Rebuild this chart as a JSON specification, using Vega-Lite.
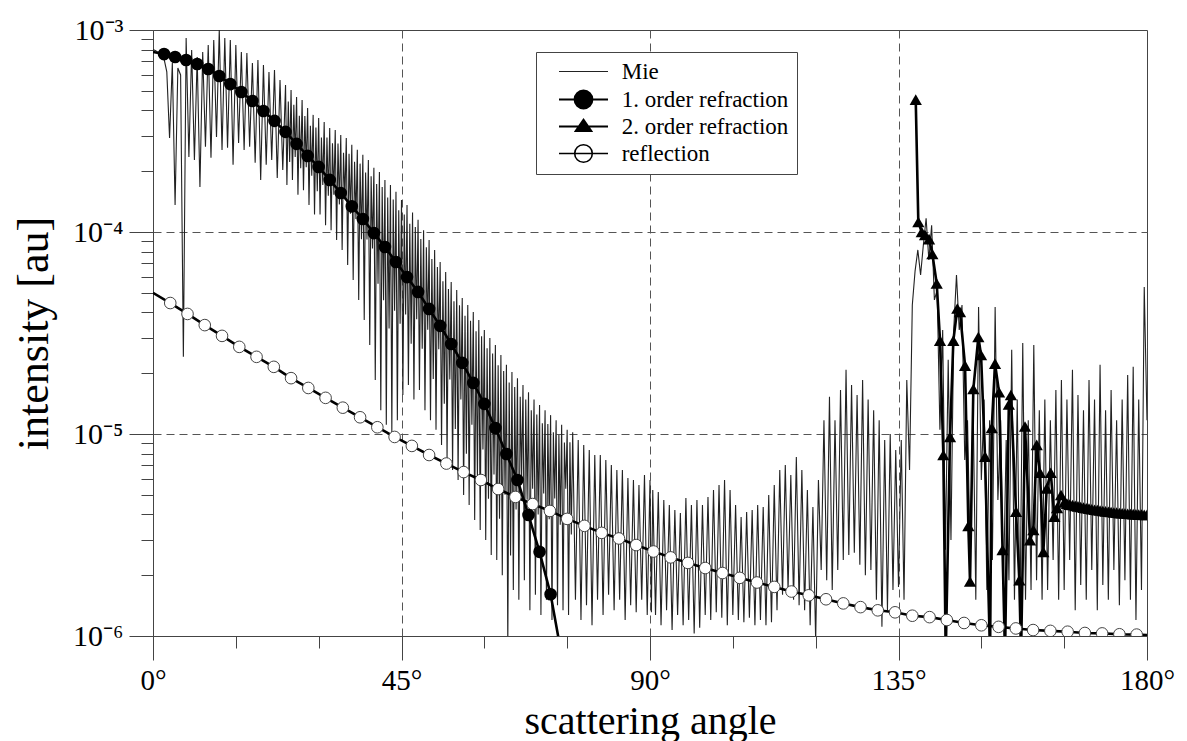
{
  "$schema": "https://vega.github.io/schema/vega-lite/v6.json",
  "width": 994,
  "height": 606,
  "autosize": {"type": "none"},
  "padding": {"left": 153, "top": 30, "right": 40, "bottom": 105},
  "background": "white",
  "config": {
    "font": "Liberation Serif",
    "view": {"stroke": "#444", "strokeWidth": 1},
    "axis": {"labelFont": "Liberation Serif", "titleFont": "Liberation Serif", "labelColor": "black", "titleColor": "black", "titleFontWeight": "normal", "tickColor": "#444", "domainColor": "#444", "gridColor": "#555", "tickWidth": 1},
    "legend": {"labelFont": "Liberation Serif", "titleFont": "Liberation Serif"}
  },
  "datasets": {
    "mie": [
      {"a":0,"v":8.0e-4},{"a":0.5,"v":7.9e-4},{"a":1,"v":7.7e-4},{"a":1.5,"v":7.5e-4},{"a":2,"v":7.2e-4},{"a":2.5,"v":6.2e-4},
      {"a":3,"v":2.92e-4},{"a":3.5,"v":6.86e-4},{"a":4,"v":1.36e-4},{"a":4.5,"v":6.49e-4},{"a":5,"v":5.99e-4},{"a":5.5,"v":2.41e-5},
      {"a":6,"v":9.13e-4},{"a":6.5,"v":2.35e-4},{"a":7,"v":7.96e-4},{"a":7.5,"v":2.27e-4},{"a":8,"v":7.35e-4},{"a":8.5,"v":1.67e-4},
      {"a":9,"v":7.78e-4},{"a":9.5,"v":2.64e-4},{"a":10,"v":8.43e-4},{"a":10.5,"v":2.33e-4},{"a":11,"v":8.92e-4},{"a":11.5,"v":2.95e-4},
      {"a":12,"v":1.0e-3},{"a":12.5,"v":2.55e-4},{"a":13,"v":9.13e-4},{"a":13.5,"v":2.61e-4},{"a":14,"v":8.92e-4},{"a":14.5,"v":2.15e-4},
      {"a":15,"v":8.43e-4},{"a":15.5,"v":2.76e-4},{"a":16,"v":7.78e-4},{"a":16.5,"v":2.55e-4},{"a":17,"v":7.69e-4},{"a":17.5,"v":2.64e-4},
      {"a":18,"v":6.86e-4},{"a":18.5,"v":2.20e-4},{"a":19,"v":7.10e-4},{"a":19.5,"v":1.81e-4},{"a":20,"v":6.71e-4},{"a":20.5,"v":2.15e-4},
      {"a":21,"v":6.20e-4},{"a":21.5,"v":2.27e-4},{"a":22,"v":6.34e-4},{"a":22.5,"v":1.85e-4},{"a":23,"v":5.66e-4},{"a":23.5,"v":2.03e-4},
      {"a":24,"v":5.34e-4},{"a":24.25,"v":1.71e-4},{"a":24.5,"v":4.42e-4},{"a":24.75,"v":2.22e-4},
      {"a":25,"v":5.05e-4},{"a":25.25,"v":1.81e-4},{"a":25.5,"v":4.27e-4},{"a":25.75,"v":2.35e-4},
      {"a":26,"v":4.66e-4},{"a":26.25,"v":1.53e-4},{"a":26.5,"v":3.76e-4},{"a":26.75,"v":2.07e-4},
      {"a":27,"v":4.50e-4},{"a":27.25,"v":1.61e-4},{"a":27.5,"v":3.75e-4},{"a":27.75,"v":2.09e-4},
      {"a":28,"v":4.11e-4},{"a":28.25,"v":1.36e-4},{"a":28.5,"v":3.36e-4},{"a":28.75,"v":1.90e-4},
      {"a":29,"v":3.80e-4},{"a":29.25,"v":1.22e-4},{"a":29.5,"v":3.29e-4},{"a":29.75,"v":1.59e-4},
      {"a":30,"v":3.67e-4},{"a":30.25,"v":1.22e-4},{"a":30.5,"v":2.94e-4},{"a":30.75,"v":1.71e-4},
      {"a":31,"v":3.50e-4},{"a":31.25,"v":1.08e-4},{"a":31.5,"v":2.94e-4},{"a":31.75,"v":1.51e-4},
      {"a":32,"v":3.27e-4},{"a":32.25,"v":1.02e-4},{"a":32.5,"v":2.75e-4},{"a":32.75,"v":1.53e-4},
      {"a":33,"v":3.20e-4},{"a":33.25,"v":9.13e-5},{"a":33.5,"v":2.74e-4},{"a":33.75,"v":1.37e-4},
      {"a":34,"v":3.02e-4},{"a":34.25,"v":8.15e-5},{"a":34.5,"v":2.47e-4},{"a":34.75,"v":1.47e-4},
      {"a":35,"v":2.92e-4},{"a":35.25,"v":6.86e-5},{"a":35.5,"v":2.44e-4},{"a":35.75,"v":1.23e-4},
      {"a":36,"v":2.70e-4},{"a":36.25,"v":5.79e-5},{"a":36.5,"v":2.23e-4},{"a":36.75,"v":1.16e-4},
      {"a":37,"v":2.55e-4},{"a":37.25,"v":4.61e-5},{"a":37.5,"v":2.18e-4},{"a":37.75,"v":9.22e-5},
      {"a":38,"v":2.41e-4},{"a":38.25,"v":3.67e-5},{"a":38.5,"v":1.97e-4},{"a":38.75,"v":9.18e-5},
      {"a":39,"v":2.27e-4},{"a":39.25,"v":2.76e-5},{"a":39.5,"v":1.89e-4},{"a":39.75,"v":8.28e-5},
      {"a":40,"v":2.08e-4},{"a":40.25,"v":1.85e-5},{"a":40.5,"v":1.73e-4},{"a":40.75,"v":5.55e-5},
      {"a":41,"v":1.98e-4},{"a":41.25,"v":1.31e-5},{"a":41.5,"v":1.67e-4},{"a":41.75,"v":4.59e-5},
      {"a":42,"v":1.81e-4},{"a":42.25,"v":1.11e-5},{"a":42.5,"v":1.48e-4},{"a":42.75,"v":3.33e-5},
      {"a":43,"v":1.71e-4},{"a":43.25,"v":1.02e-5},{"a":43.5,"v":1.45e-4},{"a":43.75,"v":4.08e-5},
      {"a":44,"v":1.58e-4},{"a":44.25,"v":1.17e-5},{"a":44.5,"v":1.28e-4},{"a":44.75,"v":3.51e-5},
      {"a":45,"v":1.44e-4},{"a":45.25,"v":1.56e-5},{"a":45.5,"v":1.22e-4},{"a":45.75,"v":3.90e-5},
      {"a":46,"v":1.36e-4},{"a":46.25,"v":1.75e-5},{"a":46.5,"v":1.10e-4},{"a":46.75,"v":2.80e-5},
      {"a":47,"v":1.25e-4},{"a":47.25,"v":1.48e-5},{"a":47.5,"v":1.06e-4},{"a":47.75,"v":3.70e-5},
      {"a":48,"v":1.15e-4},{"a":48.25,"v":1.65e-5},{"a":48.5,"v":9.22e-5},{"a":48.75,"v":2.64e-5},
      {"a":49,"v":1.02e-4},{"a":49.25,"v":1.31e-5},{"a":49.5,"v":8.41e-5},{"a":49.75,"v":3.28e-5},
      {"a":50,"v":9.13e-5},{"a":50.25,"v":1.17e-5},{"a":50.5,"v":7.34e-5},{"a":50.75,"v":1.87e-5},
      {"a":51,"v":8.15e-5},{"a":51.25,"v":1.05e-5},{"a":51.5,"v":6.71e-5},{"a":51.75,"v":2.63e-5},
      {"a":52,"v":7.10e-5},{"a":52.25,"v":8.82e-6},{"a":52.5,"v":5.71e-5},{"a":52.75,"v":1.41e-5},
      {"a":53,"v":6.34e-5},{"a":53.25,"v":7.43e-6},{"a":53.5,"v":5.22e-5},{"a":53.75,"v":1.86e-5},
      {"a":54,"v":5.66e-5},{"a":54.25,"v":6.64e-6},{"a":54.5,"v":4.54e-5},{"a":54.75,"v":1.06e-5},
      {"a":55,"v":5.16e-5},{"a":55.25,"v":5.92e-6},{"a":55.5,"v":4.34e-5},{"a":55.75,"v":1.48e-5},
      {"a":56,"v":4.71e-5},{"a":56.25,"v":4.99e-6},{"a":56.5,"v":3.85e-5},{"a":56.75,"v":7.98e-6},
      {"a":57,"v":4.35e-5},{"a":57.25,"v":4.45e-6},{"a":57.5,"v":3.64e-5},{"a":57.75,"v":1.11e-5},
      {"a":58,"v":4.02e-5},{"a":58.25,"v":3.75e-6},{"a":58.5,"v":3.23e-5},{"a":58.75,"v":6.0e-6},
      {"a":59,"v":3.67e-5},{"a":59.25,"v":3.35e-6},{"a":59.5,"v":3.05e-5},{"a":59.75,"v":8.38e-6},
      {"a":60,"v":3.27e-5},{"a":60.25,"v":2.99e-6},{"a":60.5,"v":2.66e-5},{"a":60.75,"v":4.78e-6},
      {"a":61,"v":2.99e-5},{"a":61.25,"v":2.52e-6},{"a":61.5,"v":2.50e-5},{"a":61.75,"v":6.30e-6},
      {"a":62,"v":2.76e-5},{"a":62.25,"v":2.38e-6},{"a":62.5,"v":2.19e-5},{"a":62.75,"v":3.81e-6},
      {"a":63,"v":2.46e-5},{"a":63.25,"v":2.00e-6},{"a":63.5,"v":2.05e-5},{"a":63.75,"v":5.0e-6},
      {"a":64,"v":2.20e-5},{"a":64.25,"v":9.0e-7},{"a":64.5,"v":1.80e-5},{"a":64.75,"v":2.5e-6},
      {"a":65,"v":2.03e-5},{"a":65.25,"v":1.69e-6},{"a":65.5,"v":1.71e-5},{"a":65.75,"v":4.23e-6},
      {"a":66,"v":1.89e-5},{"a":66.25,"v":1.51e-6},{"a":66.5,"v":1.53e-5},{"a":66.75,"v":6.04e-6},
      {"a":67,"v":1.75e-5},{"a":67.25,"v":1.89e-6},{"a":67.5,"v":1.48e-5},{"a":67.75,"v":4.73e-6},
      {"a":68,"v":1.61e-5},{"a":68.25,"v":1.34e-6},{"a":68.5,"v":1.31e-5},{"a":68.75,"v":5.36e-6},
      {"a":69,"v":1.48e-5},{"a":69.25,"v":1.60e-6},{"a":69.5,"v":1.25e-5},{"a":69.75,"v":4.0e-6},
      {"a":70,"v":1.39e-5},{"a":70.25,"v":1.27e-6},{"a":70.5,"v":1.13e-5},{"a":70.75,"v":5.08e-6},
      {"a":71,"v":1.31e-5},{"a":71.25,"v":1.51e-6},{"a":71.5,"v":1.12e-5},{"a":71.75,"v":3.78e-6},
      {"a":72,"v":1.24e-5},{"a":72.25,"v":1.20e-6},{"a":72.5,"v":1.02e-5},{"a":72.75,"v":4.8e-6},
      {"a":73,"v":1.17e-5},{"a":73.25,"v":1.42e-6},{"a":73.5,"v":9.92e-6},{"a":73.75,"v":3.55e-6},
      {"a":74,"v":1.11e-5},{"a":74.25,"v":1.34e-6},{"a":74.5,"v":9.07e-6},{"a":74.75,"v":5.36e-6},
      {"a":75,"v":1.05e-5},{"a":75.25,"v":1.27e-6},{"a":75.5,"v":9.11e-6},{"a":75.75,"v":3.18e-6},
      {"a":76,"v":1.02e-5},{"a":76.5,"v":1.51e-6},{"a":77,"v":9.34e-6},{"a":77.5,"v":1.20e-6},
      {"a":78,"v":8.82e-6},{"a":78.5,"v":1.42e-6},{"a":79,"v":8.33e-6},{"a":79.5,"v":1.13e-6},{"a":80,"v":7.87e-6},{"a":80.5,"v":1.51e-6},
      {"a":81,"v":7.87e-6},{"a":81.5,"v":1.27e-6},{"a":82,"v":7.43e-6},{"a":82.5,"v":1.60e-6},{"a":83,"v":7.03e-6},{"a":83.5,"v":1.34e-6},
      {"a":84,"v":6.64e-6},{"a":84.5,"v":1.51e-6},{"a":85,"v":6.64e-6},{"a":85.5,"v":1.20e-6},{"a":86,"v":6.05e-6},{"a":86.5,"v":1.42e-6},
      {"a":87,"v":5.92e-6},{"a":87.5,"v":1.31e-6},{"a":88,"v":5.59e-6},{"a":88.5,"v":1.51e-6},{"a":89,"v":6.27e-6},{"a":89.5,"v":1.27e-6},
      {"a":90,"v":5.92e-6},{"a":90.25,"v":1.31e-6},{"a":90.5,"v":5.28e-6},{"a":91,"v":1.27e-6},{"a":91.5,"v":5.16e-6},{"a":92,"v":1.13e-6},
      {"a":92.5,"v":4.71e-6},{"a":93,"v":1.34e-6},{"a":93.5,"v":4.45e-6},{"a":94,"v":1.07e-6},{"a":94.5,"v":4.20e-6},{"a":95,"v":1.27e-6},
      {"a":95.5,"v":4.06e-6},{"a":96,"v":1.13e-6},{"a":96.5,"v":4.82e-6},{"a":97,"v":1.20e-6},{"a":97.5,"v":4.45e-6},{"a":98,"v":1.03e-6},
      {"a":98.5,"v":4.71e-6},{"a":99,"v":1.10e-6},{"a":99.5,"v":4.45e-6},{"a":100,"v":1.27e-6},{"a":100.5,"v":4.88e-6},{"a":101,"v":1.20e-6},
      {"a":101.5,"v":5.28e-6},{"a":102,"v":1.31e-6},{"a":102.5,"v":5.59e-6},{"a":103,"v":1.23e-6},{"a":103.5,"v":5.92e-6},{"a":104,"v":1.13e-6},
      {"a":104.5,"v":5.28e-6},{"a":105,"v":1.27e-6},{"a":105.5,"v":4.45e-6},{"a":106,"v":1.20e-6},{"a":106.5,"v":3.88e-6},{"a":107,"v":1.17e-6},
      {"a":107.5,"v":4.11e-6},{"a":108,"v":1.23e-6},{"a":108.5,"v":4.20e-6},{"a":109,"v":1.13e-6},{"a":109.5,"v":4.45e-6},{"a":110,"v":1.20e-6},
      {"a":110.5,"v":4.35e-6},{"a":111,"v":1.13e-6},{"a":111.5,"v":4.99e-6},{"a":112,"v":1.17e-6},{"a":112.5,"v":5.59e-6},{"a":113,"v":1.34e-6},
      {"a":113.5,"v":6.64e-6},{"a":114,"v":1.60e-6},{"a":114.5,"v":7.03e-6},{"a":115,"v":1.69e-6},{"a":115.5,"v":6.27e-6},{"a":116,"v":1.51e-6},
      {"a":116.5,"v":7.69e-6},{"a":117,"v":1.42e-6},{"a":117.5,"v":6.64e-6},{"a":118,"v":1.34e-6},{"a":118.5,"v":5.28e-6},{"a":119,"v":1.13e-6},
      {"a":119.5,"v":4.35e-6},{"a":120,"v":9.5e-7},{"a":120.5,"v":5.92e-6},{"a":121,"v":2.12e-6},{"a":121.5,"v":1.17e-5},{"a":122,"v":1.89e-6},
      {"a":122.5,"v":1.53e-5},{"a":123,"v":1.69e-6},{"a":123.5,"v":1.17e-5},{"a":124,"v":2.12e-6},{"a":124.5,"v":1.65e-5},{"a":125,"v":2.38e-6},
      {"a":125.5,"v":2.08e-5},{"a":126,"v":2.52e-6},{"a":126.5,"v":1.75e-5},{"a":127,"v":2.58e-6},{"a":127.5,"v":1.56e-5},{"a":128,"v":2.25e-6},
      {"a":128.5,"v":1.85e-5},{"a":129,"v":2.00e-6},{"a":129.5,"v":1.48e-5},{"a":130,"v":2.12e-6},{"a":130.5,"v":1.31e-5},{"a":131,"v":1.51e-6},
      {"a":131.5,"v":1.17e-5},{"a":132,"v":1.11e-6},{"a":132.5,"v":9.34e-6},{"a":133,"v":1.34e-6},{"a":133.5,"v":1.0e-5},{"a":134,"v":1.69e-6},
      {"a":134.5,"v":8.33e-6},{"a":135,"v":1.75e-6},{"a":135.5,"v":9.34e-6},{"a":136,"v":1.51e-6},{"a":136.5,"v":1.85e-5},{"a":137,"v":6.64e-6},
      {"a":137.5,"v":4.35e-5},{"a":138,"v":6.4e-5},{"a":138.5,"v":8.15e-5},{"a":139,"v":6.13e-5},{"a":139.5,"v":8.62e-5},{"a":140,"v":1.17e-4},
      {"a":140.5,"v":7.27e-5},{"a":141,"v":1.08e-4},{"a":141.5,"v":4.61e-5},{"a":142,"v":5.16e-5},{"a":142.5,"v":1.05e-5},{"a":143,"v":3.27e-5},
      {"a":143.5,"v":2.67e-6},{"a":144,"v":2.33e-5},{"a":144.5,"v":2.99e-6},{"a":145,"v":3.27e-5},{"a":145.5,"v":6.13e-5},{"a":146,"v":3.27e-5},
      {"a":146.5,"v":4.35e-5},{"a":147,"v":7.43e-6},{"a":147.5,"v":1.17e-5},{"a":148,"v":2.38e-6},{"a":148.5,"v":1.48e-5},{"a":149,"v":1.51e-6},
      {"a":149.5,"v":4.25e-5},{"a":150,"v":5.92e-6},{"a":150.5,"v":1.48e-5},{"a":151,"v":1.69e-6},{"a":151.5,"v":1.17e-5},{"a":152,"v":2.38e-6},
      {"a":152.5,"v":4.25e-5},{"a":153,"v":4.71e-6},{"a":153.5,"v":1.17e-5},{"a":154,"v":1.69e-6},{"a":154.5,"v":9.34e-6},{"a":155,"v":1.89e-6},
      {"a":155.5,"v":2.61e-5},{"a":156,"v":1.51e-6},{"a":156.5,"v":1.48e-5},{"a":157,"v":1.27e-6},{"a":157.5,"v":2.82e-5},{"a":158,"v":1.51e-6},
      {"a":158.5,"v":1.17e-5},{"a":159,"v":1.69e-6},{"a":159.5,"v":2.76e-5},{"a":160,"v":1.89e-6},{"a":160.5,"v":1.31e-5},{"a":161,"v":1.51e-6},
      {"a":161.5,"v":1.48e-5},{"a":162,"v":1.69e-6},{"a":162.5,"v":1.17e-5},{"a":163,"v":2.38e-6},{"a":163.5,"v":1.65e-5},{"a":164,"v":1.51e-6},
      {"a":164.5,"v":1.85e-5},{"a":165,"v":1.69e-6},{"a":165.5,"v":1.48e-5},{"a":166,"v":2.38e-6},{"a":166.5,"v":2.08e-5},{"a":167,"v":1.34e-6},
      {"a":167.5,"v":1.56e-5},{"a":168,"v":1.79e-6},{"a":168.5,"v":1.31e-5},{"a":169,"v":1.51e-6},{"a":169.5,"v":1.85e-5},{"a":170,"v":2.12e-6},
      {"a":170.5,"v":1.48e-5},{"a":171,"v":1.34e-6},{"a":171.5,"v":2.20e-5},{"a":172,"v":1.79e-6},{"a":172.5,"v":1.31e-5},{"a":173,"v":1.51e-6},
      {"a":173.5,"v":1.65e-5},{"a":174,"v":2.12e-6},{"a":174.5,"v":1.17e-5},{"a":175,"v":1.42e-6},{"a":175.5,"v":1.48e-5},{"a":176,"v":1.89e-6},
      {"a":176.5,"v":1.96e-5},{"a":177,"v":1.51e-6},{"a":177.5,"v":2.15e-5},{"a":178,"v":1.20e-6},{"a":178.5,"v":1.48e-5},{"a":179,"v":1.69e-6},
      {"a":179.5,"v":5.34e-5},{"a":180,"v":1.17e-5}
    ],
    "r1": [
      {"a":0,"v":7.78e-4},{"a":2,"v":7.60e-4},{"a":4,"v":7.35e-4},{"a":6,"v":7.10e-4},{"a":8,"v":6.79e-4},{"a":10,"v":6.41e-4},
      {"a":12,"v":5.92e-4},{"a":14,"v":5.40e-4},{"a":16,"v":4.93e-4},{"a":18,"v":4.45e-4},{"a":20,"v":3.97e-4},{"a":22,"v":3.55e-4},
      {"a":24,"v":3.13e-4},{"a":26,"v":2.73e-4},{"a":28,"v":2.38e-4},{"a":30,"v":2.10e-4},{"a":32,"v":1.81e-4},{"a":34,"v":1.56e-4},
      {"a":36,"v":1.34e-4},{"a":38,"v":1.16e-4},{"a":40,"v":9.88e-5},{"a":42,"v":8.43e-5},{"a":44,"v":7.10e-5},{"a":46,"v":5.98e-5},
      {"a":48,"v":5.05e-5},{"a":50,"v":4.16e-5},{"a":52,"v":3.43e-5},{"a":54,"v":2.79e-5},{"a":56,"v":2.25e-5},{"a":58,"v":1.79e-5},
      {"a":60,"v":1.41e-5},{"a":62,"v":1.07e-5},{"a":64,"v":7.96e-6},{"a":66,"v":5.92e-6},{"a":68,"v":3.97e-6},{"a":70,"v":2.61e-6},
      {"a":72,"v":1.61e-6},{"a":74,"v":8.0e-7}
    ],
    "r2": [
      {"a":138.12,"v":4.52e-4},{"a":138.59,"v":1.12e-4},{"a":139.21,"v":1.00e-4},{"a":139.8,"v":9.66e-5},{"a":140.53,"v":9.22e-5},
      {"a":141.13,"v":7.78e-5},{"a":141.92,"v":5.56e-5},{"a":142.52,"v":2.90e-5},{"a":143.12,"v":7.87e-6},{"a":143.55,"v":8.0e-7},
      {"a":144.33,"v":9.66e-6},{"a":144.93,"v":2.90e-5},{"a":145.65,"v":4.18e-5},{"a":146.14,"v":4.02e-5},{"a":147.05,"v":2.18e-5},
      {"a":147.65,"v":3.51e-6},{"a":147.95,"v":1.86e-6},{"a":148.55,"v":1.67e-5},{"a":149.46,"v":3.02e-5},{"a":149.95,"v":2.46e-5},
      {"a":150.67,"v":7.73e-6},{"a":151.58,"v":8.0e-7},{"a":151.89,"v":1.07e-5},{"a":152.48,"v":2.23e-5},{"a":153.21,"v":1.61e-5},
      {"a":153.84,"v":2.67e-6},{"a":154.29,"v":8.0e-7},{"a":154.98,"v":1.40e-5},{"a":155.35,"v":1.56e-5},{"a":156.29,"v":4.12e-6},
      {"a":156.88,"v":1.89e-6},{"a":157.19,"v":8.0e-7},{"a":157.91,"v":1.09e-5},{"a":158.82,"v":2.98e-6},{"a":159.42,"v":3.35e-6},
      {"a":160.03,"v":8.83e-6},{"a":160.63,"v":6.43e-6},{"a":161.23,"v":2.61e-6},{"a":161.84,"v":5.38e-6},{"a":162.57,"v":6.43e-6},
      {"a":163.22,"v":3.90e-6},{"a":163.71,"v":4.31e-6},{"a":164.43,"v":4.99e-6},
      {"a":165,"v":4.58e-6},{"a":165.5,"v":4.52e-6},{"a":166,"v":4.47e-6},{"a":166.5,"v":4.45e-6},{"a":167,"v":4.41e-6},{"a":167.5,"v":4.38e-6},
      {"a":168,"v":4.35e-6},{"a":168.5,"v":4.32e-6},{"a":169,"v":4.29e-6},{"a":169.5,"v":4.27e-6},{"a":170,"v":4.24e-6},{"a":170.5,"v":4.22e-6},
      {"a":171,"v":4.20e-6},{"a":171.5,"v":4.18e-6},{"a":172,"v":4.16e-6},{"a":172.5,"v":4.14e-6},{"a":173,"v":4.12e-6},{"a":173.5,"v":4.11e-6},
      {"a":174,"v":4.09e-6},{"a":174.5,"v":4.08e-6},{"a":175,"v":4.06e-6},{"a":175.5,"v":4.05e-6},{"a":176,"v":4.04e-6},{"a":176.5,"v":4.03e-6},
      {"a":177,"v":4.02e-6},{"a":177.5,"v":4.01e-6},{"a":178,"v":4.00e-6},{"a":178.5,"v":3.99e-6},{"a":179,"v":3.99e-6},{"a":179.5,"v":3.98e-6},
      {"a":180,"v":3.98e-6}
    ],
    "refl": [
      {"a":0,"v":5.0e-5},{"a":3.125,"v":4.45e-5},{"a":6.25,"v":3.93e-5},{"a":9.375,"v":3.46e-5},{"a":12.5,"v":3.06e-5},{"a":15.625,"v":2.70e-5},
      {"a":18.75,"v":2.41e-5},{"a":21.875,"v":2.15e-5},{"a":25,"v":1.89e-5},{"a":28.125,"v":1.69e-5},{"a":31.25,"v":1.51e-5},{"a":34.375,"v":1.35e-5},
      {"a":37.5,"v":1.21e-5},{"a":40.625,"v":1.08e-5},{"a":43.75,"v":9.67e-6},{"a":46.875,"v":8.73e-6},{"a":50,"v":7.87e-6},{"a":53.125,"v":7.14e-6},
      {"a":56.25,"v":6.48e-6},{"a":59.375,"v":5.92e-6},{"a":62.5,"v":5.34e-6},{"a":65.625,"v":4.88e-6},{"a":68.75,"v":4.50e-6},{"a":71.875,"v":4.16e-6},
      {"a":75,"v":3.80e-6},{"a":78.125,"v":3.51e-6},{"a":81.25,"v":3.24e-6},{"a":84.375,"v":3.04e-6},{"a":87.5,"v":2.82e-6},{"a":90.625,"v":2.62e-6},
      {"a":93.75,"v":2.45e-6},{"a":96.875,"v":2.30e-6},{"a":100,"v":2.17e-6},{"a":103.125,"v":2.05e-6},{"a":106.25,"v":1.94e-6},{"a":109.375,"v":1.84e-6},
      {"a":112.5,"v":1.75e-6},{"a":115.625,"v":1.66e-6},{"a":118.75,"v":1.59e-6},{"a":121.875,"v":1.52e-6},{"a":125,"v":1.45e-6},{"a":128.125,"v":1.39e-6},
      {"a":131.25,"v":1.34e-6},{"a":134.375,"v":1.31e-6},{"a":137.5,"v":1.26e-6},{"a":140.625,"v":1.24e-6},{"a":143.75,"v":1.20e-6},{"a":146.875,"v":1.16e-6},
      {"a":150,"v":1.13e-6},{"a":153.125,"v":1.11e-6},{"a":156.25,"v":1.09e-6},{"a":159.375,"v":1.07e-6},{"a":162.5,"v":1.06e-6},{"a":165.625,"v":1.05e-6},
      {"a":168.75,"v":1.035e-6},{"a":171.875,"v":1.03e-6},{"a":175,"v":1.02e-6},{"a":178.125,"v":1.016e-6},{"a":180,"v":1.01e-6}
    ]
  },
  "resolve": {"axis": {"x": "independent", "y": "independent"}},
  "layer": [
    {
      "data": {"name": "mie"},
      "mark": {"type": "line", "strokeWidth": 1.1, "clip": true},
      "encoding": {
        "x": {"field": "a", "type": "quantitative", "scale": {"domain": [0, 180], "nice": false, "zero": false},
          "axis": {"orient": "bottom", "values": [0, 45, 90, 135, 180], "labelExpr": "datum.value + '°'", "labelFont": "Liberation Serif", "labelFontSize": 29, "labelPadding": 6, "tickSize": 24, "labelFlush": false, "labelOverlap": false,
            "grid": true, "gridDash": [8, 5], "gridOpacity": {"condition": {"test": "datum.value == 0 || datum.value == 180", "value": 0}, "value": 1},
            "title": "scattering angle", "titleFont": "Liberation Serif", "titleFontSize": 40, "titlePadding": 6}},
        "y": {"field": "v", "type": "quantitative", "scale": {"type": "log", "domain": [1e-6, 1e-3], "nice": false},
          "axis": {"orient": "left", "values": [1e-6, 1e-5, 1e-4, 1e-3], "labelExpr": "'10' + (datum.value < 5e-6 ? '⁻⁶' : datum.value < 5e-5 ? '⁻⁵' : datum.value < 5e-4 ? '⁻⁴' : '⁻³')", "labelFont": "Liberation Serif", "labelFontSize": 30, "labelPadding": 6, "tickSize": 24, "labelFlush": false, "labelOverlap": false,
            "grid": true, "gridDash": [8, 5], "gridOpacity": {"condition": {"test": "datum.value < 2e-6 || datum.value > 5e-4", "value": 0}, "value": 1},
            "title": "intensity [au]", "titleFont": "Liberation Serif", "titleFontSize": 44, "titlePadding": 16}},
        "color": {"datum": "Mie", "type": "nominal",
          "scale": {"domain": ["Mie", "1. order refraction", "2. order refraction", "reflection"], "range": ["#222222", "black", "black", "black"]},
          "legend": {"title": null, "orient": "none", "legendX": 383, "legendY": 22, "direction": "vertical",
            "strokeColor": "#444", "fillColor": "white", "padding": 8, "symbolSize": 2401, "symbolType": "stroke", "symbolStrokeWidth": 2, "symbolOffset": 28,
            "labelFont": "Liberation Serif", "labelFontSize": 23, "labelColor": "black", "labelOffset": 26.7, "labelLimit": 400, "rowPadding": 2,
            "encode": {"symbols": {"update": {
              "shape": {"signal": "datum.value == 'Mie' ? 'M-1,0H1' : datum.value == '2. order refraction' ? 'M-1,0H1M0,-0.27L0.31,0.18L-0.31,0.18Z' : 'M-1,0H1M-0.36,0A0.36,0.36,0,1,0,0.36,0A0.36,0.36,0,1,0,-0.36,0Z'"},
              "fill": {"signal": "datum.value == 'reflection' ? 'white' : 'black'"},
              "stroke": {"signal": "datum.value == 'Mie' ? '#333' : 'black'"},
              "strokeWidth": {"signal": "datum.value == 'Mie' ? 1 : datum.value == 'reflection' ? 1.6 : 2.2"},
              "opacity": {"value": 1}
            }}}}
        }
      }
    },
    {
      "data": {"name": "r2"},
      "mark": {"type": "line", "strokeWidth": 2.6, "clip": true},
      "encoding": {
        "x": {"field": "a", "type": "quantitative", "axis": {"orient": "bottom", "values": [15, 30, 60, 75, 105, 120, 150, 165], "labels": false, "tickSize": 12, "domain": false, "grid": false, "title": null}},
        "y": {"field": "v", "type": "quantitative", "scale": {"type": "log", "domain": [1e-6, 1e-3], "nice": false},
          "axis": {"orient": "left", "values": [2e-6, 3e-6, 4e-6, 5e-6, 6e-6, 7e-6, 8e-6, 9e-6, 2e-5, 3e-5, 4e-5, 5e-5, 6e-5, 7e-5, 8e-5, 9e-5, 2e-4, 3e-4, 4e-4, 5e-4, 6e-4, 7e-4, 8e-4, 9e-4], "labels": false, "tickSize": 12, "domain": false, "grid": false, "title": null}},
        "color": {"datum": "2. order refraction", "type": "nominal"}
      }
    },
    {
      "data": {"name": "r2"},
      "mark": {"type": "point", "shape": "triangle-up", "filled": true, "color": "black", "size": 150, "opacity": 1, "clip": true},
      "encoding": {
        "x": {"field": "a", "type": "quantitative", "axis": null},
        "y": {"field": "v", "type": "quantitative", "scale": {"type": "log", "domain": [1e-6, 1e-3], "nice": false}, "axis": null}
      }
    },
    {
      "data": {"name": "refl"},
      "mark": {"type": "line", "strokeWidth": 2.6, "clip": true},
      "encoding": {
        "x": {"field": "a", "type": "quantitative", "axis": null},
        "y": {"field": "v", "type": "quantitative", "scale": {"type": "log", "domain": [1e-6, 1e-3], "nice": false}, "axis": null},
        "color": {"datum": "reflection", "type": "nominal"}
      }
    },
    {
      "data": {"name": "refl"},
      "transform": [{"filter": "datum.a > 0 && datum.a < 180"}],
      "mark": {"type": "point", "shape": "circle", "filled": true, "fill": "white", "stroke": "#444", "strokeWidth": 1, "size": 135, "opacity": 1, "fillOpacity": 1, "clip": true},
      "encoding": {
        "x": {"field": "a", "type": "quantitative", "axis": null},
        "y": {"field": "v", "type": "quantitative", "scale": {"type": "log", "domain": [1e-6, 1e-3], "nice": false}, "axis": null}
      }
    },
    {
      "data": {"name": "r1"},
      "mark": {"type": "line", "strokeWidth": 2.6, "clip": true},
      "encoding": {
        "x": {"field": "a", "type": "quantitative", "axis": null},
        "y": {"field": "v", "type": "quantitative", "scale": {"type": "log", "domain": [1e-6, 1e-3], "nice": false}, "axis": null},
        "color": {"datum": "1. order refraction", "type": "nominal"}
      }
    },
    {
      "data": {"name": "r1"},
      "transform": [{"filter": "datum.a > 0"}],
      "mark": {"type": "point", "shape": "circle", "filled": true, "color": "black", "size": 160, "opacity": 1, "clip": true},
      "encoding": {
        "x": {"field": "a", "type": "quantitative", "axis": null},
        "y": {"field": "v", "type": "quantitative", "scale": {"type": "log", "domain": [1e-6, 1e-3], "nice": false}, "axis": null}
      }
    }
  ]
}
